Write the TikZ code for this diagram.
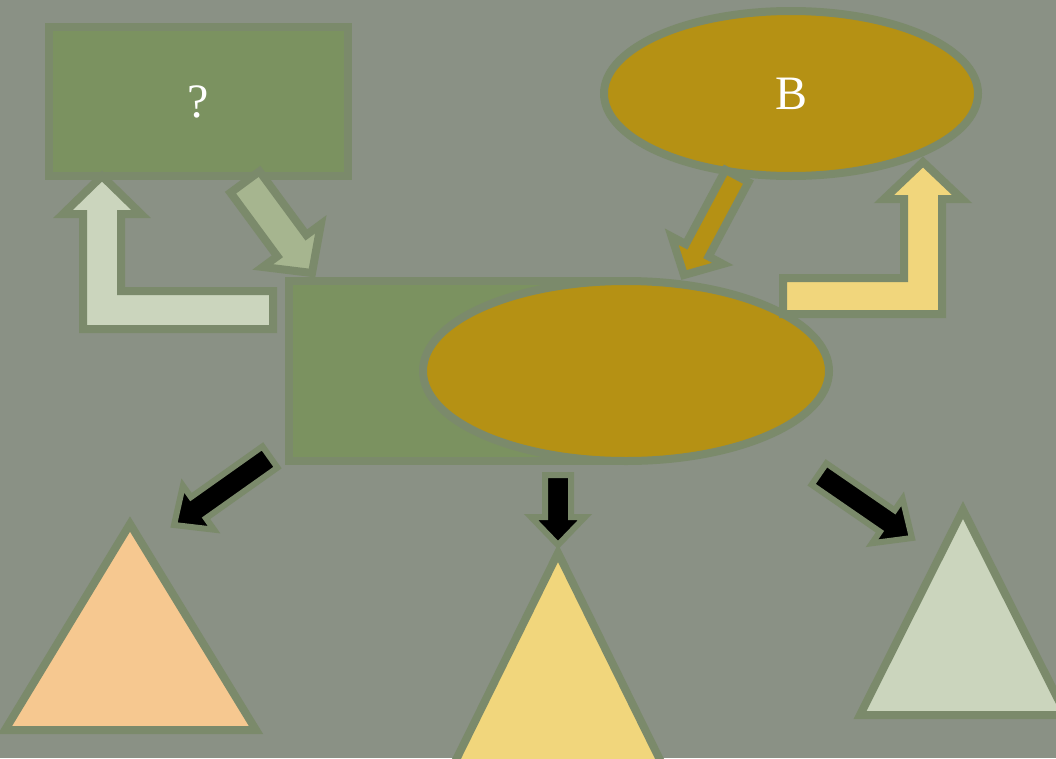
\documentclass[tikz,border=0pt]{standalone}
\usepackage{fontspec}
\setmainfont{Liberation Serif}
\usetikzlibrary{calc,shapes.geometric}
\definecolor{bgc}{HTML}{8A9185}
\definecolor{edgec}{HTML}{7B8A6B}
\definecolor{boxc}{HTML}{7B9260}
\definecolor{goldc}{HTML}{B59114}
\definecolor{sagec}{HTML}{A6B58F}
\definecolor{palec}{HTML}{CBD5BD}
\definecolor{yelc}{HTML}{F1D67C}
\definecolor{orac}{HTML}{F6C890}
\newcommand\blockarrow[6]{% style, tail, tip, shaft hw, head hw, head length
  \coordinate (ba-b) at ($(#3)!#6!(#2)$);
  \draw[#1] ($(#2)!#4!90:(#3)$) -- ($(ba-b)!#4!90:(#3)$) -- ($(ba-b)!#5!90:(#3)$)
    -- (#3) -- ($(ba-b)!#5!-90:(#3)$) -- ($(ba-b)!#4!-90:(#3)$) -- ($(#2)!#4!-90:(#3)$) -- cycle;
}
\begin{document}
\begin{tikzpicture}[x=1pt,y=-1pt,
  shapeline/.style={draw=edgec,line width=8pt,line join=miter},
  boxnode/.style={shapeline,fill=boxc,rectangle,inner sep=0pt},
  ovalnode/.style={shapeline,fill=goldc,ellipse,inner sep=0pt},
  bigtext/.style={text=white,font=\fontsize{48}{52}\selectfont},
  fatarrow/.style={draw=edgec,line width=8pt,line join=miter,miter limit=6},
  blackarrow/.style={draw=edgec,fill=black,line width=6pt,line join=miter,miter limit=6},
  tri/.style={draw=edgec,line width=8pt,line join=miter,miter limit=8}]
\useasboundingbox (0,0) rectangle (1056,758);
\clip (0,0) rectangle (1056,758);
\fill[bgc] (0,0) rectangle (1056,758);

% triangles
\coordinate (t1a) at (130,524); \coordinate (t1b) at (5,730); \coordinate (t1c) at (256,730);
\coordinate (t2a) at (558,553); \coordinate (t2b) at (451,770); \coordinate (t2c) at (665,770);
\coordinate (t3a) at (963,510); \coordinate (t3b) at (860,715); \coordinate (t3c) at (1066,715);
\draw[tri,fill=orac] (t1a) -- (t1b) -- (t1c) -- cycle;
\draw[tri,fill=yelc] (t2a) -- (t2b) -- (t2c) -- cycle;
\draw[tri,fill=palec] (t3a) -- (t3b) -- (t3c) -- cycle;

% shapes
\node[boxnode,minimum width=299pt,minimum height=149pt,bigtext] (q) at (198.5,101.5) {?};
\node[ovalnode,minimum width=374pt,minimum height=165pt,bigtext] (b) at (791,93.5) {B};
\node[boxnode,minimum width=331pt,minimum height=180pt] (cr) at (454.5,371) {};
\node[ovalnode,minimum width=406pt,minimum height=180pt] (ce) at (626,371) {};

% black arrows
\coordinate (k1t) at (270,457); \coordinate (k1h) at (174,525);
\coordinate (k2t) at (558,475); \coordinate (k2h) at (558,545);
\coordinate (k3t) at (819,474); \coordinate (k3h) at (912,538);
\blockarrow{blackarrow}{k1t}{k1h}{13pt}{27pt}{30pt}
\blockarrow{blackarrow}{k2t}{k2h}{13pt}{27pt}{28pt}
\blockarrow{blackarrow}{k3t}{k3h}{13pt}{27pt}{30pt}

% top arrows
\coordinate (g1t) at (245,182); \coordinate (g1h) at (312,273);
\blockarrow{fatarrow,fill=sagec}{g1t}{g1h}{18pt}{36pt}{34pt}
\coordinate (g2t) at (737,176); \coordinate (g2h) at (684,275);
\blockarrow{fatarrow,fill=goldc}{g2t}{g2h}{13pt}{29pt}{28pt}

% L arrows
\coordinate (l1s) at (273,310); \coordinate (l1h) at (102,176);
\draw[fatarrow,fill=palec] (l1s |- 0,291) -- (121,291) -- (121,214) -- (141,214) -- (l1h)
  -- (63,214) -- (83,214) -- (83,329) -- (l1s |- 0,329) -- cycle;
\coordinate (l2s) at (783,296); \coordinate (l2h) at (923,162);
\draw[fatarrow,fill=yelc] (l2s |- 0,278) -- (904,278) -- (904,199) -- (884,199) -- (l2h)
  -- (962,199) -- (942,199) -- (942,314) -- (l2s |- 0,314) -- cycle;
\end{tikzpicture}
\end{document}
